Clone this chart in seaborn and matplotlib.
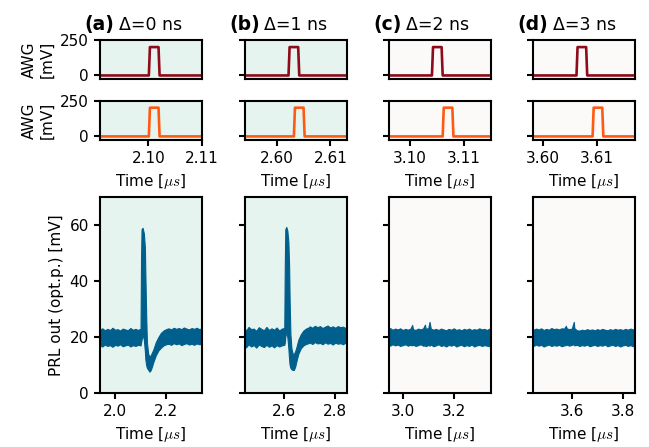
import matplotlib
matplotlib.use("Agg")
import numpy as np
import matplotlib.pyplot as plt
from matplotlib.ticker import MultipleLocator, FormatStrFormatter
import seaborn as sns

# ---- data ----
PANELS = ["(a)", "(b)", "(c)", "(d)"]
DELAY_NS = [0, 1, 2, 3]

# AWG pulses (times in us, amplitude in mV)
PULSE_ON = [2.1001, 2.6022, 3.1041, 3.6062]   # first pulse rising edge
PULSE_WIDTH = 0.0018
PULSE_EDGE = 0.0002
PULSE_MV = 200

AWG_XLIM = [(2.0910, 2.1100), (2.5940, 2.6130), (3.0961, 3.1151), (3.5981, 3.6171)]
PRL_XLIM = [(1.941, 2.341), (2.444, 2.844), (2.946, 3.346), (3.448, 3.848)]

# PRL output envelope (lower / upper edge of the noisy trace, mV)
A_T = ([1.94, 1.95, 1.96, 1.97, 1.98, 1.99, 2.00, 2.01, 2.02, 2.03, 2.04, 2.05, 2.06, 2.07, 2.08, 2.09, 2.10]
       + [2.102, 2.104, 2.108, 2.113, 2.117, 2.119, 2.122, 2.125, 2.130, 2.135, 2.140, 2.145, 2.150,
          2.160, 2.170, 2.180, 2.190, 2.200]
       + [2.21, 2.22, 2.23, 2.24, 2.25, 2.26, 2.27, 2.28, 2.29, 2.30, 2.31, 2.32, 2.33, 2.34])
A_HI = ([22.6, 23.1, 22.4, 22.9, 22.5, 23.3, 22.6, 22.8, 22.3, 23.0, 22.7, 22.4, 23.2, 22.6, 22.9, 22.5, 23.0]
        + [48, 58.5, 59, 57, 52, 42, 28, 18, 14, 13, 13.5, 14.5, 15.5, 18.2, 20, 21.5, 22.3, 22.8]
        + [23.1, 22.7, 23.3, 22.9, 23.2, 22.8, 23.4, 23.0, 22.7, 23.2, 22.9, 23.3, 22.8, 23.1])
A_LO = ([17.0, 16.6, 17.3, 16.8, 17.1, 16.5, 17.2, 16.9, 17.4, 16.7, 17.0, 17.3, 16.6, 17.1, 16.8, 17.2, 17.0]
        + [18, 19, 21, 19, 15, 12, 10, 9, 8.3, 7.6, 8.2, 9.5, 11, 13.5, 15.2, 16.2, 17, 17.4]
        + [17.6, 17.2, 17.8, 17.4, 17.7, 17.1, 17.5, 17.8, 17.3, 17.6, 17.2, 17.7, 17.4, 17.6])

B_T = ([2.44, 2.45, 2.46, 2.47, 2.48, 2.49, 2.50, 2.51, 2.52, 2.53, 2.54, 2.55, 2.56, 2.57, 2.58, 2.59, 2.60]
       + [2.602, 2.604, 2.608, 2.612, 2.616, 2.619, 2.621, 2.624, 2.628, 2.633, 2.638, 2.643, 2.648,
          2.655, 2.665, 2.675, 2.685, 2.695]
       + [2.70, 2.71, 2.72, 2.73, 2.74, 2.75, 2.76, 2.77, 2.78, 2.79, 2.80, 2.81, 2.82, 2.83, 2.84, 2.85])
B_HI = ([23.4, 22.3, 23.6, 22.8, 23.0, 22.2, 23.5, 22.9, 22.4, 23.6, 22.5, 23.1, 22.6, 23.4, 22.3, 23.0, 23.2]
        + [45, 58.5, 59.3, 58, 54, 45, 33, 21, 16, 14, 14, 15, 16.5, 19, 21, 22.3, 23, 23.4]
        + [23.8, 23.3, 24.0, 23.5, 23.9, 23.2, 23.7, 24.1, 23.4, 23.8, 23.3, 23.9, 23.5, 23.7, 23.2, 23.8])
B_LO = ([17.0, 16.3, 17.4, 16.6, 17.1, 16.2, 17.3, 16.8, 16.4, 17.2, 16.5, 17.0, 16.3, 17.1, 16.6, 17.0, 17.2]
        + [18, 20, 22, 20, 16, 12, 10, 9, 8.5, 8.2, 8.3, 9.5, 11.5, 14, 16, 17, 17.5, 17.8]
        + [18.0, 17.5, 18.2, 17.7, 17.9, 17.4, 18.1, 17.6, 17.9, 17.3, 18.0, 17.6, 17.8, 17.4, 18.0, 17.7])

C_T = [2.94, 2.95, 2.96, 2.97, 2.98, 2.99, 3.00, 3.01, 3.02, 3.03, 3.037, 3.04, 3.05, 3.06, 3.07,
       3.08, 3.087, 3.09, 3.10, 3.105, 3.11, 3.12, 3.13, 3.14, 3.15, 3.16, 3.17, 3.18, 3.19, 3.20,
       3.21, 3.22, 3.23, 3.24, 3.25, 3.26, 3.27, 3.28, 3.29, 3.30, 3.31, 3.32, 3.33, 3.34, 3.35]
C_HI = [22.8, 23.2, 22.6, 23.0, 22.7, 23.1, 22.5, 22.9, 22.6, 23.0, 24.3, 22.8, 22.5, 23.0, 22.7,
        23.1, 24.4, 22.9, 23.2, 25.4, 23.0, 22.6, 22.9, 22.5, 23.0, 22.7, 22.4, 22.9, 22.6, 23.1,
        22.5, 22.8, 22.4, 22.9, 22.6, 23.0, 22.5, 22.8, 22.6, 23.1, 22.7, 22.9, 22.5, 23.0, 22.7]
C_LO = [17.2, 16.9, 17.4, 17.0, 17.3, 16.8, 17.1, 17.4, 16.9, 17.2, 17.0, 17.3, 16.8, 17.1, 17.4,
        16.9, 17.0, 16.7, 17.2, 16.9, 17.3, 16.7, 17.0, 17.4, 16.8, 17.1, 16.6, 17.2, 16.9, 17.3,
        16.6, 17.0, 17.2, 16.7, 17.1, 16.8, 17.3, 16.6, 17.0, 17.2, 16.8, 17.1, 16.9, 16.7, 17.0]

D_T = [3.44, 3.45, 3.46, 3.47, 3.48, 3.49, 3.50, 3.51, 3.52, 3.53, 3.54, 3.55, 3.56, 3.57, 3.577,
       3.58, 3.59, 3.60, 3.608, 3.61, 3.62, 3.63, 3.64, 3.65, 3.66, 3.67, 3.68, 3.69, 3.70, 3.71,
       3.72, 3.73, 3.74, 3.75, 3.76, 3.77, 3.78, 3.79, 3.80, 3.81, 3.82, 3.83, 3.84, 3.85]
D_HI = [22.9, 22.6, 23.0, 22.7, 23.1, 22.5, 22.9, 22.6, 23.2, 22.8, 23.0, 22.7, 23.1, 23.0, 24.0,
        23.1, 22.8, 23.0, 25.4, 23.2, 22.4, 22.3, 22.6, 22.4, 22.8, 22.5, 22.7, 22.4, 22.8, 22.5,
        22.9, 22.6, 22.4, 22.8, 22.5, 22.9, 22.6, 22.8, 22.5, 22.9, 22.6, 23.0, 22.7, 22.9]
D_LO = [17.1, 16.8, 17.3, 16.9, 17.2, 16.6, 17.0, 17.3, 16.8, 17.1, 16.9, 17.2, 16.7, 17.0, 17.1,
        17.3, 16.9, 17.2, 17.4, 17.0, 17.2, 16.8, 17.1, 16.9, 17.3, 16.7, 17.0, 17.2, 16.8, 17.1,
        16.9, 17.3, 16.7, 17.0, 17.2, 16.8, 17.1, 16.6, 17.0, 17.2, 16.8, 17.1, 16.7, 17.0]

TRACES = [(A_T, A_LO, A_HI), (B_T, B_LO, B_HI), (C_T, C_LO, C_HI), (D_T, D_LO, D_HI)]

# ---- style ----
BG = ["#e5f4ee", "#e5f4ee", "#fbfaf8", "#fbfaf8"]
COL_TOP = "#8e0b1c"
COL_BOT = "#ff5a14"
COL_PRL = "#005f8c"

sns.set_style("ticks")
plt.rcParams.update({
    "font.family": ["DejaVu Sans"],
    "mathtext.fontset": "cm",
    "font.size": 11,
    "text.color": "black",
    "axes.labelcolor": "black",
    "axes.linewidth": 1.5,
    "axes.edgecolor": "black",
    "xtick.major.width": 1.5,
    "ytick.major.width": 1.5,
    "xtick.major.size": 4.5,
    "ytick.major.size": 4.5,
    "xtick.labelsize": 11,
    "ytick.labelsize": 11,
    "axes.labelsize": 11,
    "xtick.color": "black",
    "ytick.color": "black",
})

W, H = 649, 447
fig = plt.figure(figsize=(W / 100, H / 100), dpi=100)

col_left = [100, 244.5, 389, 533]
col_w = 102
rows = [(40, 39), (100.5, 39.5), (197, 196)]


def px_axes(x, y, w, h):
    return fig.add_axes([x / W, 1 - (y + h) / H, w / W, h / H])


for i in range(4):
    ax_top = px_axes(col_left[i], rows[0][0], col_w, rows[0][1])
    ax_mid = px_axes(col_left[i], rows[1][0], col_w, rows[1][1])
    ax_bot = px_axes(col_left[i], rows[2][0], col_w, rows[2][1])

    x0, x1 = AWG_XLIM[i]
    for ax, on, col in [(ax_top, PULSE_ON[i], COL_TOP),
                        (ax_mid, PULSE_ON[i] + DELAY_NS[i] * 1e-3, COL_BOT)]:
        t = [x0 - 0.001, on, on + PULSE_EDGE, on + PULSE_WIDTH, on + PULSE_WIDTH + PULSE_EDGE, x1 + 0.001]
        v = [0, 0, PULSE_MV, PULSE_MV, 0, 0]
        sns.lineplot(x=t, y=v, ax=ax, color=col, lw=1.9, sort=False)
        ax.set_facecolor(BG[i])
        ax.set_xlim(x0, x1)
        ax.set_ylim(-25, 250)
        ax.set_yticks([0, 250])
        ax.xaxis.set_major_locator(MultipleLocator(0.01))
        ax.xaxis.set_major_formatter(FormatStrFormatter("%.2f"))
        if i == 0:
            ax.set_ylabel("AWG\n[mV]")
        else:
            ax.set_yticklabels([])
            ax.set_ylabel("")
    ax_top.set_xticks([])
    ax_top.set_xlabel("")
    ax_mid.set_xlabel(r"Time [$\mu s$]")

    t, lo, hi = TRACES[i]
    ax_bot.fill_between(t, lo, hi, color=COL_PRL, edgecolor=COL_PRL, lw=0.8)
    ax_bot.set_facecolor(BG[i])
    ax_bot.set_xlim(*PRL_XLIM[i])
    ax_bot.set_ylim(0, 70)
    ax_bot.set_yticks([0, 20, 40, 60])
    ax_bot.xaxis.set_major_locator(MultipleLocator(0.2))
    ax_bot.xaxis.set_major_formatter(FormatStrFormatter("%.1f"))
    ax_bot.set_xlabel(r"Time [$\mu s$]")
    if i == 0:
        ax_bot.set_ylabel("PRL out (opt.p.) [mV]")
    else:
        ax_bot.set_yticklabels([])

    lab = ax_top.annotate(PANELS[i], xy=(0, 1), xycoords="axes fraction",
                          xytext=(-11, 7), textcoords="offset points",
                          fontsize=13.5, fontweight="bold", ha="left", va="baseline")
    ax_top.annotate(f"Δ={DELAY_NS[i]} ns", xy=(1, 1), xycoords=(lab, "axes fraction"),
                    xytext=(3, 7), textcoords="offset points",
                    fontsize=12.5, ha="left", va="baseline")

fig.savefig("out.png", dpi=100)
